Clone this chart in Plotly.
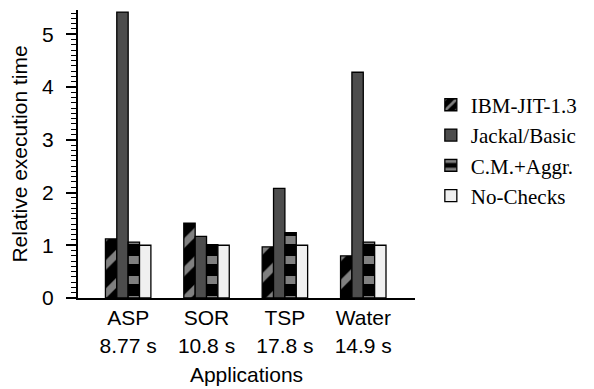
import plotly.graph_objects as go

categories = ["ASP<br>8.77 s", "SOR<br>10.8 s", "TSP<br>17.8 s", "Water<br>14.9 s"]
series_names = ["IBM-JIT-1.3", "Jackal/Basic", "C.M.+Aggr.", "No-Checks"]
ibm = [1.12, 1.42, 0.97, 0.80]
jackal = [5.42, 1.17, 2.08, 4.28]
cm = [1.06, 1.01, 1.24, 1.06]
nochecks = [1.0, 1.0, 1.0, 1.0]

fig = go.Figure()
styles = [
    dict(color="black", pattern=dict(shape="/", fgcolor="white", bgcolor="black", size=20, solidity=0.35)),
    dict(color="#4d4d4d"),
    dict(color="black", pattern=dict(shape="-", fgcolor="white", bgcolor="black", size=20, solidity=0.4)),
    dict(color="#f0f0f0"),
]
for i, (name, vals) in enumerate(zip(series_names, [ibm, jackal, cm, nochecks])):
    m = dict(styles[i])
    m["line"] = dict(color="black", width=1.3)
    fig.add_trace(go.Bar(x=categories, y=vals, name=name, marker=m))

fig.update_layout(
    width=594, height=389,
    margin=dict(l=70, r=187, t=2, b=99),
    plot_bgcolor="white", paper_bgcolor="white",
    barmode="group", bargap=0.42, bargroupgap=0,
    font=dict(family="Liberation Sans, Arial", size=21, color="black"),
    legend=dict(x=1.047, y=0.741, xanchor="left", yanchor="top",
                font=dict(family="Liberation Serif, Times New Roman", size=21),
                tracegroupgap=0, bgcolor="rgba(0,0,0,0)"),
)
fig.update_xaxes(
    range=[-0.64, 3.66], showline=True, linecolor="black", linewidth=2,
    ticks="", showgrid=False, zeroline=False, automargin=False,
    title=dict(text="Applications", font=dict(size=21), standoff=12),
    tickfont=dict(size=21),
)
fig.update_yaxes(
    range=[0, 5.46], showline=True, linecolor="black", linewidth=2,
    ticks="outside", ticklen=10, tickwidth=1.5, tickcolor="black",
    dtick=1, tick0=0, showgrid=False, zeroline=False, automargin=False,
    ticklabelstandoff=8,
    minor=dict(ticks="outside", ticklen=5, dtick=0.1, tickcolor="black", tickwidth=1),
    title=dict(text="Relative execution time", font=dict(size=21), standoff=22),
    tickfont=dict(size=21),
)
fig.write_html("out.html")
